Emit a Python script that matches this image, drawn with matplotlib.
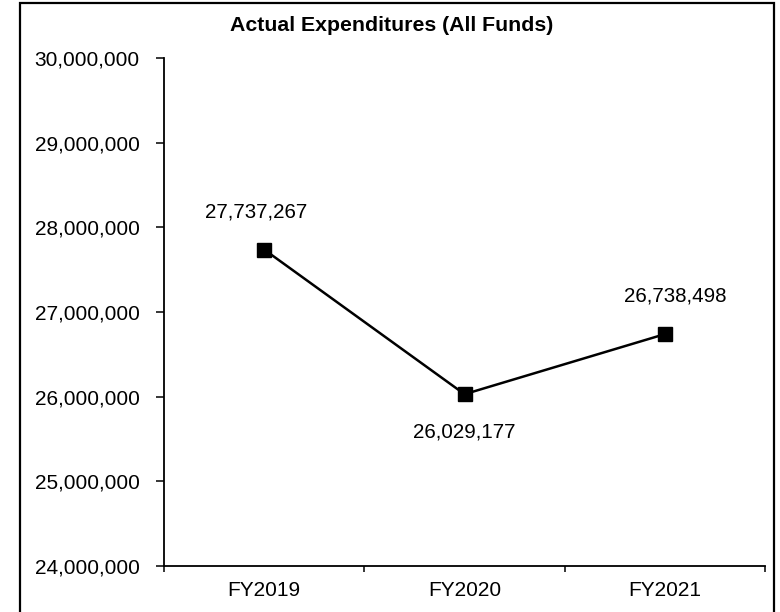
import matplotlib
matplotlib.use('Agg')
import matplotlib.pyplot as plt
import matplotlib.patches as patches
from matplotlib.ticker import FuncFormatter, FixedLocator

# chart data
years = ['FY2019', 'FY2020', 'FY2021']
spend = [27737267, 26029177, 26738498]
label_pos = ['above', 'below', 'above']

plt.rcParams['font.family'] = ['Liberation Sans', 'DejaVu Sans']

fig = plt.figure(figsize=(7.8, 6.12), dpi=100)
ax = fig.add_axes([0.2103, 0.0752, 0.7705, 0.83])

x = list(range(len(years)))
ax.plot(x, spend, color='black', lw=1.8, marker='s', markersize=10.5,
        markerfacecolor='black', markeredgecolor='black', clip_on=False)

# data labels
for xi, v, pos in zip(x, spend, label_pos):
    dy = 38 if pos == 'above' else -38
    dx = -0.04 if xi == 0 else (0.05 if xi == 2 else 0)
    ax.annotate(f'{v:,}', (xi + dx, v), xytext=(0, dy), textcoords='offset pixels',
                ha='center', va='center', fontsize=14.8)

ax.set_xlim(-0.5, 2.5)
ax.set_ylim(24000000, 30000000)
ax.set_yticks(range(24000000, 30000001, 1000000))
ax.yaxis.set_major_formatter(FuncFormatter(lambda v, p: f'{int(v):,}'))

# category boundaries as tick marks, labels in the middle
ax.xaxis.set_major_locator(FixedLocator([-0.5, 0.5, 1.5, 2.5]))
ax.set_xticklabels([])
ax.xaxis.set_minor_locator(FixedLocator(x))
ax.set_xticklabels(years, minor=True)
ax.tick_params(axis='x', which='minor', length=0, pad=11, labelsize=15)
ax.tick_params(axis='x', which='major', length=4.5, width=1.1, direction='out')
ax.tick_params(axis='y', length=5.5, width=1.1, direction='out', labelsize=15, pad=12)

for s in ['top', 'right']:
    ax.spines[s].set_visible(False)
for s in ['left', 'bottom']:
    ax.spines[s].set_linewidth(1.3)

fig.text(0.5015, 0.958, 'Actual Expenditures (All Funds)', ha='center', va='center',
         fontsize=15.3, fontweight='bold')

# outer border
fig.patches.append(patches.Rectangle((20 / 780, -0.01), 754 / 780, 1.005,
                                     transform=fig.transFigure, fill=False,
                                     edgecolor='black', lw=1.6))

fig.savefig('out.png', dpi=100)
